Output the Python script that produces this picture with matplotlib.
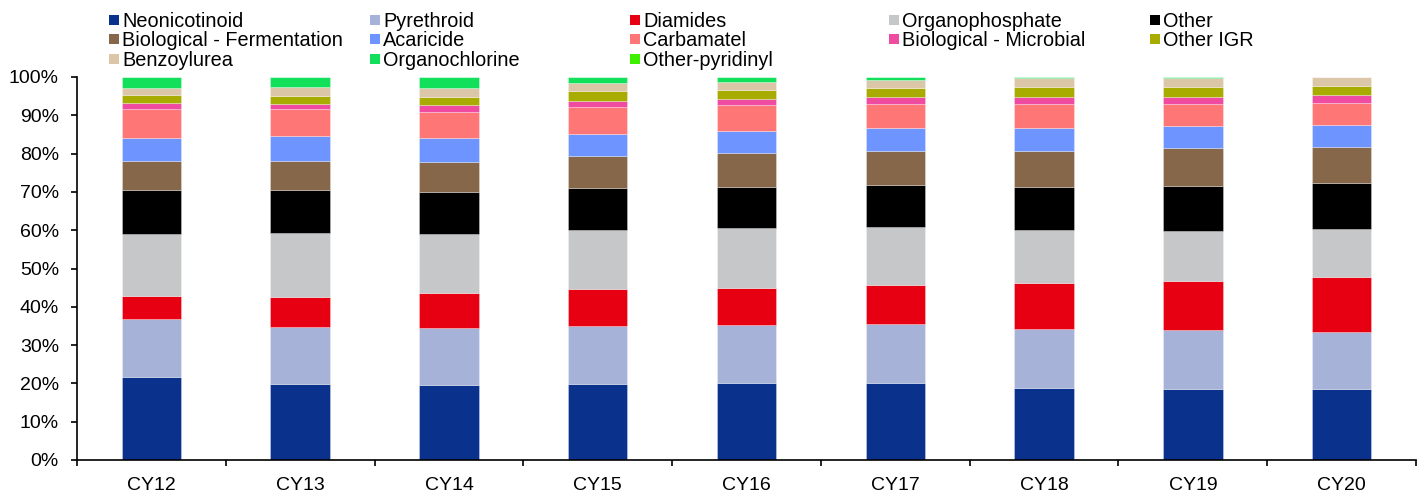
import matplotlib
matplotlib.use("Agg")
import matplotlib.pyplot as plt
from matplotlib.patches import Rectangle
from matplotlib.ticker import PercentFormatter, FixedLocator, NullFormatter
import numpy as np

plt.rcParams['font.family'] = ['Liberation Sans', 'DejaVu Sans']

years = ["CY12", "CY13", "CY14", "CY15", "CY16", "CY17", "CY18", "CY19", "CY20"]

series_names = [
    "Neonicotinoid", "Pyrethroid", "Diamides", "Organophosphate", "Other",
    "Biological - Fermentation", "Acaricide", "Carbamatel", "Biological - Microbial", "Other IGR",
    "Benzoylurea", "Organochlorine", "Other-pyridinyl",
]
series_colors = [
    "#0a318c", "#a6b2d8", "#e60012", "#c6c7c9", "#000000",
    "#87674a", "#6e95ff", "#ff7676", "#ef4ba0", "#a8ab00",
    "#dcc6a8", "#12e05a", "#3ef000",
]

# share of total, percent
neonicotinoid   = [21.8, 19.8, 19.7, 19.9, 20.2, 20.2, 18.7, 18.5, 18.5]
pyrethroid      = [15.1, 15.0, 14.8, 15.2, 15.0, 15.3, 15.4, 15.4, 14.9]
diamides        = [6.0, 7.8, 9.0, 9.6, 9.7, 10.2, 12.0, 12.8, 14.5]
organophosphate = [16.0, 16.6, 15.6, 15.3, 15.7, 15.1, 14.0, 13.2, 12.5]
other           = [11.5, 11.2, 11.0, 10.9, 10.8, 10.9, 11.3, 11.7, 11.8]
bio_fermentation = [7.6, 7.6, 7.7, 8.4, 8.8, 9.0, 9.4, 9.8, 9.5]
acaricide       = [6.1, 6.5, 6.2, 5.9, 5.7, 5.9, 6.0, 5.7, 5.8]
carbamatel      = [7.5, 7.1, 6.9, 6.9, 6.7, 6.3, 6.1, 5.9, 5.8]
bio_microbial   = [1.5, 1.3, 1.7, 1.7, 1.6, 2.0, 2.0, 1.9, 2.0]
other_igr       = [2.1, 2.2, 2.3, 2.5, 2.3, 2.1, 2.4, 2.4, 2.3]
benzoylurea     = [2.0, 2.3, 2.3, 2.2, 2.3, 2.3, 2.35, 2.35, 2.3]
organochlorine  = [2.8, 2.6, 2.8, 1.5, 1.2, 0.7, 0.35, 0.35, 0.1]
other_pyridinyl = [0.0, 0.0, 0.0, 0.0, 0.0, 0.0, 0.0, 0.0, 0.0]

series_values = [
    neonicotinoid, pyrethroid, diamides, organophosphate, other,
    bio_fermentation, acaricide, carbamatel, bio_microbial, other_igr,
    benzoylurea, organochlorine, other_pyridinyl,
]

W, H = 1427, 496
fig = plt.figure(figsize=(W / 100, H / 100), dpi=100)
ax = fig.add_axes([77 / W, 36 / H, (1416 - 77) / W, (460 - 77) / H])

x = np.arange(len(years))
bottom = np.zeros(len(years))
for name, vals, col in zip(series_names, series_values, series_colors):
    v = np.array(vals) / 100.0
    ax.bar(x, v, width=0.40, bottom=bottom, color=col,
           edgecolor=(1, 1, 1, 0.35), linewidth=0.6, label=name)
    bottom += v

ax.set_xlim(-0.5, len(years) - 0.5)
ax.set_ylim(0, 1)
ax.yaxis.set_major_locator(FixedLocator(np.linspace(0, 1, 11)))
ax.yaxis.set_major_formatter(PercentFormatter(xmax=1, decimals=0))

# category labels centred, tick marks on category boundaries
ax.set_xticks(x)
ax.set_xticklabels(years)
ax.tick_params(axis='x', which='major', length=0, pad=12, labelsize=14)
ax.set_xticks(np.arange(-0.5, len(years)), minor=True)
ax.xaxis.set_minor_formatter(NullFormatter())
ax.tick_params(axis='x', which='minor', length=4, width=1.2, direction='out')
ax.tick_params(axis='y', length=4, width=1.2, direction='out', pad=9, labelsize=14)

for s in ("top", "right"):
    ax.spines[s].set_visible(False)
for s in ("left", "bottom"):
    ax.spines[s].set_linewidth(1.2)

# legend laid out in equal-width columns, filled row by row
col_x = [109, 370, 630, 889, 1150]
row_y = [19.5, 39.0, 58.5]
for i, (name, col) in enumerate(zip(series_names, series_colors)):
    r, c = divmod(i, 5)
    px, py = col_x[c], row_y[r]
    fig.patches.append(Rectangle((px / W, 1 - (py + 5) / H), 10 / W, 10 / H,
                                 transform=fig.transFigure, facecolor=col,
                                 edgecolor='none'))
    fig.text((px + 13) / W, 1 - py / H, name, fontsize=14.3,
             ha='left', va='center_baseline')

fig.savefig("out.png", dpi=100)
